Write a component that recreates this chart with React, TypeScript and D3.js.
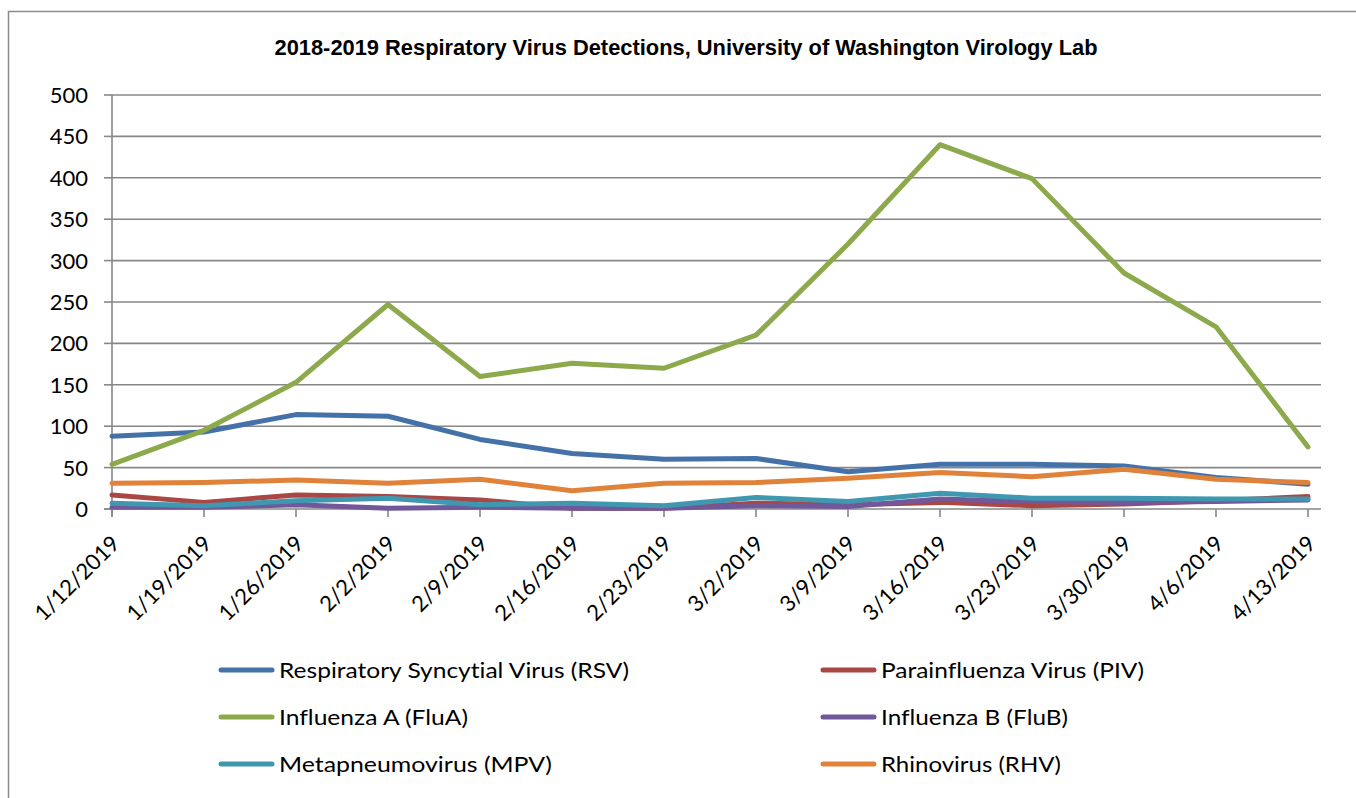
import React from "react";
import * as d3 from "d3";

const title = "2018-2019 Respiratory Virus Detections, University of Washington Virology Lab";
const dates = ["1/12/2019","1/19/2019","1/26/2019","2/2/2019","2/9/2019","2/16/2019","2/23/2019","3/2/2019","3/9/2019","3/16/2019","3/23/2019","3/30/2019","4/6/2019","4/13/2019"];
const yTicks = [0, 50, 100, 150, 200, 250, 300, 350, 400, 450, 500];

const rsv = [88, 93, 114, 112, 84, 67, 60, 61, 45, 54, 54, 52, 38, 30];
const piv = [17, 8, 17, 15, 11, 1, 1, 7, 5, 8, 4, 6, 10, 15];
const fluA = [54, 95, 153, 247, 160, 176, 170, 210, 320, 440, 399, 285, 220, 75];
const fluB = [2, 2, 5, 1, 2, 1, 1, 4, 3, 12, 9, 8, 9, 11];
const mpv = [7, 4, 10, 13, 5, 7, 4, 14, 9, 19, 13, 13, 12, 12];
const rhv = [31, 32, 35, 31, 36, 22, 31, 32, 37, 44, 39, 48, 36, 32];

const seriesNames = [
  "Respiratory Syncytial Virus (RSV)",
  "Parainfluenza Virus (PIV)",
  "Influenza A (FluA)",
  "Influenza B (FluB)",
  "Metapneumovirus (MPV)",
  "Rhinovirus (RHV)",
];
const seriesValues = [rsv, piv, fluA, fluB, mpv, rhv];
const seriesColors = ["#4571A9", "#AA4643", "#8CAA4C", "#70589A", "#3F97B0", "#E0823A"];

const legendWidths = [350, 263, 189, 187, 273, 180];

const FONT = "Lato, 'Noto Sans', sans-serif";

export default function App() {
  const W = 1356, H = 798;
  const x = d3.scalePoint<string>().domain(dates).range([112, 1308]);
  const y = d3.scaleLinear().domain([0, 500]).range([509, 95]);
  const plotRight = 1321;
  const line = d3
    .line<number>()
    .x((_, i) => x(dates[i]) as number)
    .y((d) => y(d));

  const grid = "#878787";
  const noLig = { fontVariantLigatures: "none" as const };

  return (
    <div style={{ position: "fixed", left: 0, top: 0, width: W, height: H, background: "#fff" }}>
      <svg width={W} height={H} style={{ display: "block" }}>
        <rect x={8.5} y={11.5} width={1400} height={900} fill="#fff" stroke="#8c8c8c" strokeWidth={1.5} />
        <text
          x={686}
          y={55}
          textAnchor="middle"
          fontFamily="'Liberation Sans Narrow', 'Liberation Sans', Arial, sans-serif"
          fontWeight="bold"
          fontSize={22}
          textLength={823}
          lengthAdjust="spacingAndGlyphs"
          fill="#000"
        >
          {title}
        </text>

        {yTicks.filter((t) => t > 0).map((t) => (
          <line key={"g" + t} x1={112} x2={plotRight} y1={y(t)} y2={y(t)} stroke={grid} strokeWidth={1.6} />
        ))}
        <line x1={112} x2={112} y1={y(500)} y2={y(0) + 8} stroke={grid} strokeWidth={1.6} />
        {yTicks.map((t) => (
          <g key={"yt" + t}>
            <line x1={104} x2={112} y1={y(t)} y2={y(t)} stroke={grid} strokeWidth={1.6} />
            <text x={88} y={y(t)} dy="0.36em" textAnchor="end" fontFamily={FONT} fontSize={22} fill="#000">
              {t}
            </text>
          </g>
        ))}
        <line x1={104} x2={plotRight} y1={y(0)} y2={y(0)} stroke={grid} strokeWidth={1.6} />
        {dates.map((d) => (
          <g key={"xt" + d}>
            <line x1={x(d)} x2={x(d)} y1={y(0)} y2={y(0) + 8} stroke={grid} strokeWidth={1.6} />
            <text
              transform={`translate(${(x(d) as number) + 9},${545}) rotate(-45)`}
              textAnchor="end"
              fontFamily={FONT}
              fontSize={22}
              fill="#000"
            >
              {d}
            </text>
          </g>
        ))}

        {seriesValues.map((vals, i) => (
          <path
            key={"s" + i}
            d={line(vals) || ""}
            fill="none"
            stroke={seriesColors[i]}
            strokeWidth={5}
            strokeLinejoin="round"
            strokeLinecap="round"
          />
        ))}

        {seriesNames.map((name, i) => {
          const col = i % 2;
          const row = Math.floor(i / 2);
          const lx = col === 0 ? 219 : 821;
          const ly = 670 + row * 47;
          return (
            <g key={"l" + i}>
              <line x1={lx + 2} x2={lx + 53} y1={ly} y2={ly} stroke={seriesColors[i]} strokeWidth={5} strokeLinecap="round" />
              <text
                x={lx + 60}
                y={ly}
                dy="0.36em"
                fontFamily={FONT}
                fontSize={21}
                textLength={legendWidths[i]}
                lengthAdjust="spacingAndGlyphs"
                fill="#000"
                style={noLig}
              >
                {name}
              </text>
            </g>
          );
        })}
      </svg>
    </div>
  );
}
